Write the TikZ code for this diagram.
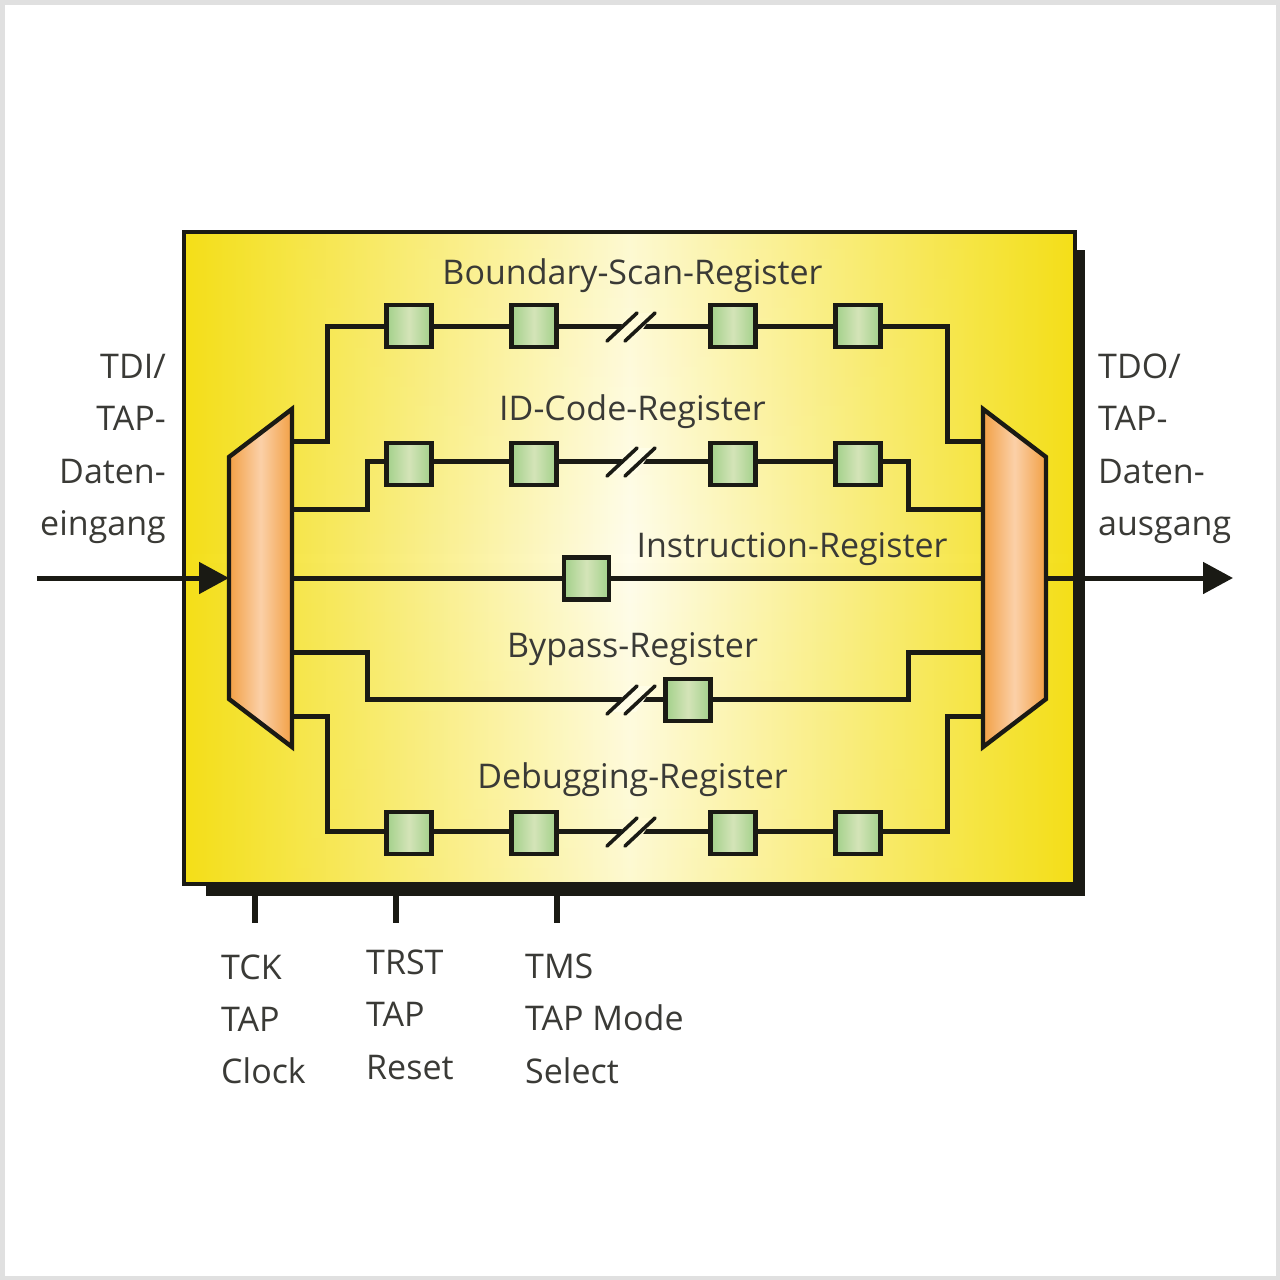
\documentclass[tikz,border=0pt]{standalone}
\usepackage{fontspec}
\setmainfont{Open Sans}
\usetikzlibrary{arrows.meta,calc,fadings}
\definecolor{ink}{HTML}{1A1A14}
\definecolor{txt}{HTML}{3A3A36}
\definecolor{boxy}{HTML}{F4DF18}
\definecolor{boxw}{HTML}{FFFDEC}
\definecolor{muxo}{HTML}{F2A045}
\definecolor{muxl}{HTML}{FBD0A8}
\definecolor{rego}{HTML}{A2D08A}
\definecolor{regl}{HTML}{D4E4B8}
\tikzfading[name=edgefade,top color=transparent!87,bottom color=transparent!87,middle color=transparent!100]
\tikzset{
  x=1pt,y=-1pt,
  regbox/.style={draw=ink,line width=4.4pt,minimum width=45pt,minimum height=42pt,inner sep=0pt,outer sep=0pt,left color=rego,right color=rego,middle color=regl},
  wire/.style={draw=ink,line width=5pt,line join=miter},
  tick/.style={draw=ink,line width=5.5pt},
  muxshape/.style={draw=ink,line width=4.4pt,line join=miter,left color=muxo,right color=muxo,middle color=muxl},
  lbl/.style={text=txt,font=\fontsize{34}{34}\selectfont,inner sep=0pt},
  flow/.style={draw=ink,line width=5pt,-{Triangle[length=30pt,width=31pt]}},
  brk/.style={draw=ink,line width=3.6pt,line cap=round},
}
\begin{document}
\begin{tikzpicture}
\useasboundingbox (0,0) rectangle (1280,1280);
\fill[white] (0,0) rectangle (1280,1280);
\draw[line width=4.5pt,draw=black!12] (2.25,2.25) rectangle (1277.75,1277.75);
% shadow + chip
\fill[ink] (206,250) rectangle (1085,896);
\node[draw=ink,line width=4pt,minimum width=891pt,minimum height=652pt,inner sep=0pt,outer sep=0pt,left color=boxy,right color=boxy,middle color=boxw] (chip) at (629.5,558) {};
\fill[boxy,path fading=edgefade,fit fading=true] (186,234) rectangle (1073,882);
% mux
\path[muxshape] (229,457) -- (292,409) -- (292,747) -- (229,699) -- cycle;
\path[muxshape] (983,409) -- (1046,457) -- (1046,699) -- (983,747) -- cycle;
% registers
\foreach \n/\x/\y in {a1/409/326,a2/534/326,a3/733/326,a4/858/326,
  b1/409/464,b2/534/464,b3/733/464,b4/858/464,
  c1/586.5/578.5,d1/688/700,
  e1/409/833,e2/534/833,e3/733/833,e4/858/833}
  \node[regbox] (\n) at (\x,\y) {};
% free ends of the connectors
\foreach \n/\x/\y in {la/292/441,lb/292/509,lc/292/578,ld/292/652,le/292/716,
  ra/983/441,rb/983/509,rc/983/578,rd/983/652,re/983/716,
  inS/37/578,inE/229/578,outS/1046/578,outE/1233/578,
  t1a/255/893,t1b/255/923,t2a/396/893,t2b/396/923,t3a/557/893,t3b/557/923}
  \coordinate (\n) at (\x,\y);
% wires
\draw[wire] (la) -- (327,441) -- (327,326) -- (a1.west);
\draw[wire] (a1) -- (a2);
\draw[wire] (a2) -- (a3);
\draw[wire] (a3) -- (a4);
\draw[wire] (a4.east) -- (947,326) -- (947,441) -- (ra);
\draw[wire] (lb) -- (367,509) -- (367,461) -- (b1.west|-0,461);
\draw[wire] (b1.east|-0,461) -- (b2.west|-0,461);
\draw[wire] (b2.east|-0,461) -- (b3.west|-0,461);
\draw[wire] (b3.east|-0,461) -- (b4.west|-0,461);
\draw[wire] (b4.east|-0,461) -- (908,461) -- (908,509) -- (rb);
\draw[wire] (lc) -- (c1.west|-0,578);
\draw[wire] (c1.east|-0,578) -- (rc);
\draw[wire] (ld) -- (367,652) -- (367,699) -- (d1.west|-0,699);
\draw[wire] (d1.east|-0,699) -- (908,699) -- (908,652) -- (rd);
\draw[wire] (le) -- (327,716) -- (327,831) -- (e1.west|-0,831);
\draw[wire] (e1.east|-0,831) -- (e2.west|-0,831);
\draw[wire] (e2.east|-0,831) -- (e3.west|-0,831);
\draw[wire] (e3.east|-0,831) -- (e4.west|-0,831);
\draw[wire] (e4.east|-0,831) -- (947,831) -- (947,716) -- (re);
% break marks
\foreach \y/\c in {326/FFFBD8,461/FFFDE6,699/FFFDE6,831/FFFAD2}{
  \definecolor{gapc}{HTML}{\c}
  \fill[gapc] (612,\y+13) -- (636,\y+13) -- (654,\y-13) -- (630,\y-13) -- cycle;
  \draw[brk] (607,\y+15) -- (637,\y-13);
  \draw[brk] (625,\y+15) -- (655,\y-13);
}
% flow
\draw[flow] (inS) -- (inE);
\draw[flow] (outS) -- (outE);
\draw[tick] (t1a) -- (t1b);
\draw[tick] (t2a) -- (t2b);
\draw[tick] (t3a) -- (t3b);
% labels
\node[lbl,anchor=base] (tr1) at (632.5,284) {Boundary-Scan-Register};
\node[lbl,anchor=base] (tr2) at (632.5,420) {ID-Code-Register};
\node[lbl,anchor=base] (tr3) at (792,557) {Instruction-Register};
\node[lbl,anchor=base] (tr4) at (632.5,657) {Bypass-Register};
\node[lbl,anchor=base] (tr5) at (632.5,788) {Debugging-Register};
\node[lbl,anchor=base east] (l1) at (166,378) {TDI/};
\node[lbl,anchor=base east] (l2) at (166,430) {TAP-};
\node[lbl,anchor=base east] (l3) at (166,483) {Daten-};
\node[lbl,anchor=base east] (l4) at (166,535) {eingang};
\node[lbl,anchor=base west] (r1) at (1098,378) {TDO/};
\node[lbl,anchor=base west] (r2) at (1098,430) {TAP-};
\node[lbl,anchor=base west] (r3) at (1098,483) {Daten-};
\node[lbl,anchor=base west] (r4) at (1098,535) {ausgang};
\node[lbl,anchor=base west] (b11) at (221,979) {TCK};
\node[lbl,anchor=base west] (b12) at (221,1031) {TAP};
\node[lbl,anchor=base west] (b13) at (221,1083) {Clock};
\node[lbl,anchor=base west] (b21) at (366,974) {TRST};
\node[lbl,anchor=base west] (b22) at (366,1026) {TAP};
\node[lbl,anchor=base west] (b23) at (366,1079) {Reset};
\node[lbl,anchor=base west] (b31) at (525,978) {TMS};
\node[lbl,anchor=base west] (b32) at (525,1030) {TAP Mode};
\node[lbl,anchor=base west] (b33) at (525,1083) {Select};
\end{tikzpicture}
\end{document}
